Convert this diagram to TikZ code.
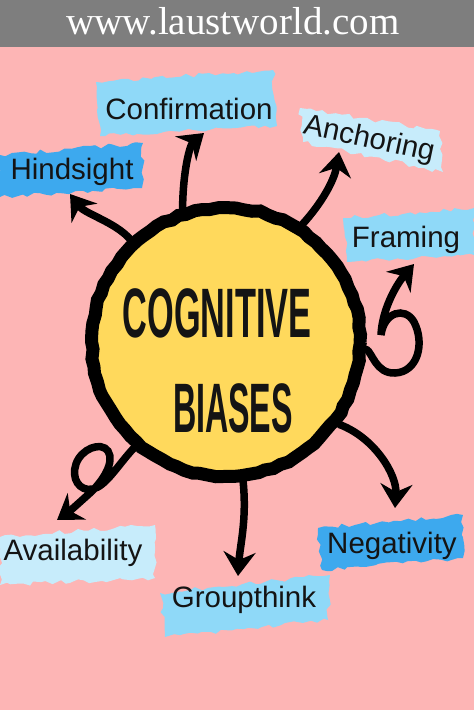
\documentclass[tikz,border=0pt]{standalone}
\usepackage{fontspec}
\setmainfont{Liberation Serif}
\setsansfont{Liberation Sans}
\usetikzlibrary{arrows.meta,decorations.pathmorphing}
\definecolor{bg}{HTML}{FDB5B5}
\definecolor{hdr}{HTML}{7E7E7E}
\definecolor{yel}{HTML}{FFD95C}
\definecolor{bla}{HTML}{8FD9F8}
\definecolor{blb}{HTML}{3DA9EE}
\definecolor{blc}{HTML}{C7ECFB}
\tikzset{
  rough/.style={decorate, decoration={random steps, segment length=6pt, amplitude=2.2pt}},
  lbl/.style={font=\sffamily\fontsize{29.5}{30}\selectfont, text=black!92, inner sep=0pt},
  conn/.style={line width=7.5pt, line cap=round, -{Stealth[length=24pt,width=32pt,inset=8pt]}},
  bigtxt/.style={font=\sffamily\bfseries\fontsize{70}{70}\selectfont, text=black!92, inner sep=0pt}
}
\begin{document}
\begin{tikzpicture}[x=1pt,y=-1pt]
\useasboundingbox (0,0) rectangle (474,710);
\fill[bg] (0,0) rectangle (474,710);
\fill[hdr] (0,0) rectangle (474,47);
\node[text=white, font=\fontsize{39}{39}\selectfont, inner sep=0pt, anchor=base] (url) at (233,34) {www.laustworld.com};

% brush bands
\fill[bla, rough] (96,82) -- (273,70) -- (277,126) -- (100,136) -- cycle;
\fill[blb, rough] (0,155) -- (143,143) -- (142,188) -- (0,197) -- cycle;
\fill[blc, rough] (300,108) -- (440,131) -- (443,172) -- (303,142) -- cycle;
\fill[bla, rough] (343,218) -- (474,208) -- (474,255) -- (347,262) -- cycle;
\fill[blc, rough] (0,537) -- (155,525) -- (155,578) -- (0,585) -- cycle;
\fill[bla, rough] (160,593) -- (330,575) -- (328,620) -- (165,637) -- cycle;
\fill[blb, rough] (318,528) -- (463,515) -- (463,558) -- (322,570) -- cycle;

% labels
\node[lbl, anchor=base] (conf) at (189,119) {Confirmation};
\node[lbl, anchor=base] (hind) at (72,179) {Hindsight};
\node[lbl, rotate=-12] (anch) at (369,140) {Anchoring};
\node[lbl, anchor=base] (fram) at (406,247) {Framing};
\node[lbl, anchor=base] (avail) at (73,560) {Availability};
\node[lbl, anchor=base] (group) at (244,607) {Groupthink};
\node[lbl, anchor=base] (neg) at (392,553) {Negativity};

% central circle
\node[circle, draw=black, line width=13pt, fill=yel, minimum size=268pt, inner sep=0pt,
      decorate, decoration={random steps, segment length=8pt, amplitude=1.1pt}] (c) at (226,342) {};
\node[bigtxt] (t1) at (217,313) {\scalebox{0.49}[1]{COGNITIVE}};
\node[bigtxt] (t2) at (233,408) {\scalebox{0.46}[1]{BIASES}};

% arrow ends
\coordinate (tipH) at (70,194);
\coordinate (tipC) at (204,133);
\coordinate (tipA) at (339,152);
\coordinate (tipF) at (414,264);
\coordinate (tipN) at (395,508);
\coordinate (tipG) at (238,576);
\coordinate (tipV) at (57,520);

% connectors
\draw[conn] (c.133) .. controls (115,222) and (85,214) .. (tipH);
\draw[conn] (c.108) .. controls (183,170) and (190,145) .. (tipC);
\draw[conn] (c.57) .. controls (320,205) and (334,182) .. (tipA);
\draw[conn] (c.-3) .. controls (372,352) and (376,374) .. (395,373)
   .. controls (418,372) and (425,343) .. (414,322)
   .. controls (405,306) and (384,312) .. (381,335)
   .. controls (382,310) and (396,285) .. (tipF);
\draw[conn] (c.-36) .. controls (375,438) and (397,475) .. (tipN);
\draw[conn] (c.-83) .. controls (247,520) and (240,545) .. (tipG);
\draw[conn] (c.-131) .. controls (118,465) and (106,486) .. (93,489)
   .. controls (79,492) and (71,478) .. (76,464)
   .. controls (81,449) and (101,441) .. (108,451)
   .. controls (115,462) and (103,481) .. (90,493)
   .. controls (80,502) and (70,511) .. (tipV);
\end{tikzpicture}
\end{document}
